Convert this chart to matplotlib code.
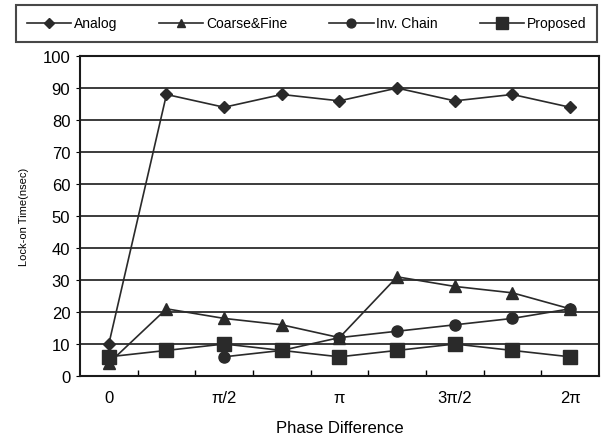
import numpy as np
import matplotlib
matplotlib.use("Agg")
import matplotlib.pyplot as plt

plt.rcParams['font.family'] = ['Liberation Sans', 'DejaVu Sans']

# phase steps 0 .. 2pi in pi/4 steps
phase = np.arange(9)
tick_pos = [0, 2, 4, 6, 8]
tick_labels = ['0', 'π/2', 'π', '3π/2', '2π']

analog = [10, 88, 84, 88, 86, 90, 86, 88, 84]
coarse_fine = [4, 21, 18, 16, 12, 31, 28, 26, 21]
inv_chain = [np.nan, np.nan, 6, 8, 12, 14, 16, 18, 21]
proposed = [6, 8, 10, 8, 6, 8, 10, 8, 6]

fig = plt.figure(figsize=(6.13, 4.39), dpi=100)
ax = fig.add_axes([0.1305, 0.1412, 0.8465, 0.7288])

kw = dict(color='#2a2a2a', lw=1.2)
l1, = ax.plot(phase, analog, marker='D', ms=6, label='Analog', **kw)
l2, = ax.plot(phase, coarse_fine, marker='^', ms=8, label='Coarse&Fine', **kw)
l3, = ax.plot(phase, inv_chain, marker='o', ms=8, label='Inv. Chain', **kw)
l4, = ax.plot(phase, proposed, marker='s', ms=10, label='Proposed', **kw)

ax.set_xlim(-0.5, 8.5)
ax.set_ylim(0, 100)
ax.set_yticks(range(0, 101, 10))
ax.yaxis.grid(True, color='#1a1a1a', lw=1.2)
ax.set_axisbelow(True)

ax.set_xticks(tick_pos)
ax.set_xticklabels(tick_labels, fontsize=12)
ax.set_xticks(np.arange(0.5, 8, 1), minor=True)
ax.tick_params(axis='x', which='major', length=0, pad=10)
ax.tick_params(axis='x', which='minor', direction='in', length=4, width=1)
ax.tick_params(axis='y', length=3, labelsize=12, pad=4)
for s in ax.spines.values():
    s.set_linewidth(1.5)
    s.set_color('#1a1a1a')

ax.set_xlabel('Phase Difference', fontsize=12, labelpad=11)
ax.set_ylabel('Lock-on Time(nsec)', fontsize=8, labelpad=10)

leg = fig.legend(handles=[l1, l2, l3, l4], loc='upper center', ncol=4,
                 bbox_to_anchor=(0.5, 0.995), fontsize=10, frameon=True,
                 fancybox=False, edgecolor='#1a1a1a', handlelength=3.2,
                 handletextpad=0.2, columnspacing=3.0, borderpad=0.8,
                 borderaxespad=0.3, markerscale=0.8)
leg.get_frame().set_linewidth(1.5)

fig.savefig('out.png', dpi=100)
